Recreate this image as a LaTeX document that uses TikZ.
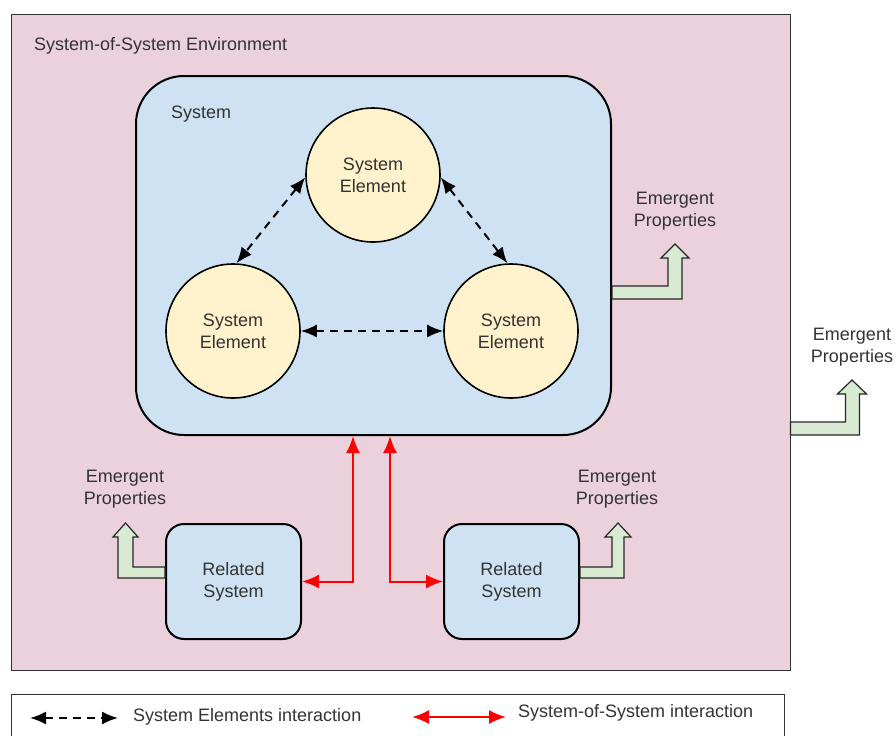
\documentclass[tikz,border=0pt]{standalone}
\usepackage{fontspec}
\setmainfont{Liberation Sans}
\usepackage{tikz}
\usetikzlibrary{arrows.meta,calc,positioning}
\definecolor{envpink}{RGB}{234,209,220}
\definecolor{sysblue}{RGB}{207,226,243}
\definecolor{elemyellow}{RGB}{255,242,204}
\definecolor{emgreen}{RGB}{217,234,211}
\definecolor{sosred}{RGB}{255,0,0}
\tikzstyle{every node}=[font=\fontsize{18}{22}\selectfont, text=black!80]
\tikzstyle{env box}=[rectangle, draw=black!80, line width=1pt, fill=envpink, minimum width=779pt, minimum height=656pt]
\tikzstyle{system box}=[rectangle, rounded corners=48pt, draw=black, line width=2pt, fill=sysblue, minimum width=475pt, minimum height=359pt]
\tikzstyle{element}=[circle, draw=black, line width=1.6pt, fill=elemyellow, minimum size=134pt, inner sep=0pt, align=center]
\tikzstyle{related}=[rectangle, rounded corners=18pt, draw=black, line width=2pt, fill=sysblue, minimum width=135pt, minimum height=115pt, align=center]
\tikzstyle{emergent}=[draw=black!85, line width=1.2pt, fill=emgreen, line join=miter]
\tikzstyle{emlabel}=[align=center]
\tikzstyle{plain label}=[inner sep=0pt]
\tikzstyle{seedge}=[{Latex[length=16pt,width=13pt]}-{Latex[length=16pt,width=13pt]}, line width=2pt, dash pattern=on 8pt off 6pt]
\tikzstyle{sosedge}=[{Latex[length=17pt,width=14pt]}-{Latex[length=17pt,width=14pt]}, line width=2pt, sosred]

\begin{document}
\begin{tikzpicture}[x=1pt,y=-1pt]
\def\bandshift{30.5pt}
\def\rsshift{14.5pt}

    \useasboundingbox (0,0) rectangle (895,736);
    \clip (0,0) rectangle (895,736);

	% Environment
    \node[env box] (Env) at (400.5,342.5) {};
    \node[plain label, anchor=base west] (Env-label) at (34,50) {System-of-System Environment};

	% System
    \node[system box] (Sys) at (373.5,255.5) {};
    \node[plain label, anchor=base west] (Sys-label) at (171,118) {System};

    \foreach \name / \x / \y in {1/373/175, 2/233/331, 3/511/331}
        \node[element] (SE-\name) at (\x,\y) {System\\Element};

    % Related systems
    \foreach \name / \x in {1/233.5, 2/511.5}
        \node[related] (RS-\name) at (\x,581.5) {Related\\System};

    % Emergent properties
    \foreach \name / \x / \y in {1/675/211, 2/852/347, 3/125/489, 4/617/489}
        \node[emlabel] (EP-\name) at (\x,\y) {Emergent\\Properties};

    \draw[emergent] ([yshift=-\bandshift]Sys.east) -- ++(56,0) -- ++(0,-28) -- ++(-7,0) -- ++(14,-14) -- ++(14,14) -- ++(-7,0) -- ++(0,41) -- ++(-70,0) -- cycle;
    \draw[emergent] ([yshift=-79.5pt]Env.east) -- ++(55,0) -- ++(0,-28) -- ++(-8,0) -- ++(14.5,-14) -- ++(14.5,14) -- ++(-7,0) -- ++(0,41) -- ++(-69,0) -- cycle;
    \draw[emergent] ([yshift=\rsshift]RS-1.west) -- ++(-32,0) -- ++(0,-30) -- ++(5,0) -- ++(-12.5,-14) -- ++(-12.5,14) -- ++(5,0) -- ++(0,41) -- ++(47,0) -- cycle;
    \draw[emergent] ([yshift=\rsshift]RS-2.east) -- ++(32,0) -- ++(0,-30) -- ++(-7,0) -- ++(13,-14) -- ++(13,14) -- ++(-7,0) -- ++(0,41) -- ++(-44,0) -- cycle;

	% Element interactions
    \draw[seedge] (SE-1.182) -- (SE-2.87);
    \draw[seedge] (SE-1.-2) -- (SE-3.93);
    \draw[seedge] (SE-2) -- (SE-3);

    % System-of-System interactions
    \draw[sosedge] (RS-1.east) -| ([xshift=-20.5pt]Sys.south);
    \draw[sosedge] (RS-2.west) -| ([xshift=16.5pt]Sys.south);

    % Legend
    \draw[draw=black!80, line width=1pt] (11,760) rectangle (784,694);
    \coordinate (LE-1a) at (30,718);
    \coordinate (LE-1b) at (118,718);
    \coordinate (LE-2a) at (412,717);
    \coordinate (LE-2b) at (506,717);
    \draw[seedge] (LE-1a) -- (LE-1b);
    \draw[sosedge] (LE-2a) -- (LE-2b);
    \node[plain label, anchor=west] (LE-1) at (133,717) {System Elements interaction};
    \node[plain label, anchor=west] (LE-2) at (518,713) {System-of-System interaction};

\end{tikzpicture}
\end{document}
